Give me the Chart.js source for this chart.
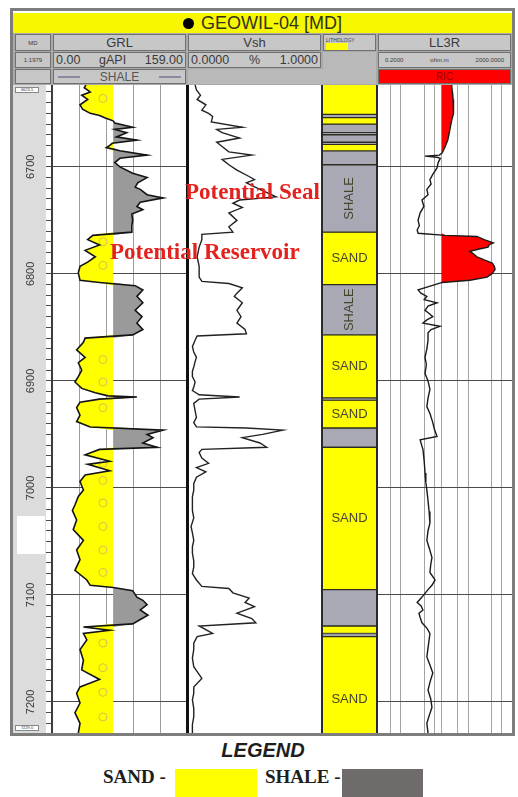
<!DOCTYPE html>
<html>
<head>
<meta charset="utf-8">
<script src="https://cdn.jsdelivr.net/npm/chart.js@4.4.1/dist/chart.umd.min.js"></script>
<style>
  html, body { margin: 0; padding: 0; background: #fff; }
  body { width: 518px; height: 797px; position: relative; overflow: hidden; font-family: Arial, "Liberation Sans", sans-serif; }
  .abs { position: absolute; box-sizing: border-box; }
  canvas.track { position: absolute; }
  .cell { position: absolute; box-sizing: border-box; background: #c7c7c7; border: 1px solid #707070;
          display: flex; align-items: center; justify-content: center; color: #3a3a3a; white-space: nowrap; overflow: hidden; }
  .scale { justify-content: space-between; padding: 0 2px; }
  .sep { position: absolute; top: 85px; height: 648px; background: #2a2a2a; }
  .note { position: absolute; font-family: "Liberation Serif", "Times New Roman", serif; font-weight: bold;
          font-size: 23px; color: #e3221d; white-space: nowrap; line-height: 1; }
</style>
</head>
<body>

<!-- outer frame and header -->
<div class="abs" style="left:10px;top:8px;width:505px;height:728px;border:3px solid #7d7d7d;"></div>
<div class="abs" style="left:13px;top:33px;width:499px;height:52px;background:#a9a9a9;"></div>
<div class="abs" style="left:13px;top:13px;width:499px;height:20px;background:#f7f700;display:flex;align-items:center;justify-content:center;color:#33331a;font-size:18px;">
  <span style="display:inline-block;width:11px;height:11px;border-radius:50%;background:#000;margin-right:7px;"></span>GEOWIL-04 [MD]
</div>

<div class="cell" style="left:15px;top:34px;width:36px;height:17px;font-size:6px;">MD</div>
<div class="cell" style="left:53px;top:34px;width:133px;height:17px;font-size:13px;">GRL</div>
<div class="cell" style="left:188px;top:34px;width:133px;height:17px;font-size:13px;">Vsh</div>
<div class="cell" style="left:323px;top:34px;width:53px;height:17px;font-size:5px;align-items:flex-start;justify-content:flex-start;padding:1px 2px;">
  <span style="position:absolute;left:2px;top:2px;">LITHOLOGY</span>
  <span style="position:absolute;left:2px;top:8px;width:22px;height:7px;background:#ffff00;"></span>
</div>
<div class="cell" style="left:378px;top:34px;width:133px;height:17px;font-size:13px;">LL3R</div>

<div class="cell" style="left:15px;top:52px;width:36px;height:16px;font-size:6px;">1:1979</div>
<div class="cell scale" style="left:53px;top:52px;width:133px;height:16px;font-size:12.5px;"><span>0.00</span><span>gAPI</span><span>159.00</span></div>
<div class="cell scale" style="left:188px;top:52px;width:133px;height:16px;font-size:12.5px;"><span>0.0000</span><span>%</span><span>1.0000</span></div>
<div class="abs" style="left:323px;top:52px;width:53px;height:32px;background:#b9b9b9;"></div>
<div class="cell scale" style="left:378px;top:52px;width:133px;height:16px;font-size:6px;padding:0 6px;"><span>0.2000</span><span>ohm.m</span><span>2000.0000</span></div>

<div class="cell" style="left:15px;top:69px;width:36px;height:15px;"></div>
<div class="cell" style="left:53px;top:69px;width:133px;height:15px;font-size:12px;color:#555;justify-content:space-between;padding:0 4px;">
  <span style="display:inline-block;width:22px;border-top:2px solid #8a8aa0;"></span>SHALE<span style="display:inline-block;width:22px;border-top:2px solid #8a8aa0;"></span>
</div>
<div class="abs" style="left:188px;top:69px;width:135px;height:15px;background:#b9b9b9;"></div>
<div class="cell" style="left:378px;top:69px;width:133px;height:15px;background:#ff0000;color:#a00000;font-size:10px;">RIC</div>

<!-- tracks -->
<canvas id="depthTrack" class="track" width="39" height="648" style="left:13px;top:85px;"></canvas>
<canvas id="grTrack" class="track" width="135" height="648" style="left:52px;top:85px;"></canvas>
<canvas id="vshTrack" class="track" width="135" height="648" style="left:187px;top:85px;"></canvas>
<canvas id="lithTrack" class="track" width="55" height="648" style="left:322px;top:85px;"></canvas>
<canvas id="llTrack" class="track" width="135" height="648" style="left:377px;top:85px;"></canvas>

<div class="abs" style="left:17px;top:516px;width:28px;height:38px;background:#fff;"></div>
<div class="abs" style="left:15px;top:87px;width:24px;height:6px;background:#fff;border:1px solid #888;font-size:4px;line-height:4px;color:#333;text-align:center;">6623.5</div>
<div class="abs" style="left:15px;top:725px;width:24px;height:6px;background:#fff;border:1px solid #888;font-size:4px;line-height:4px;color:#333;text-align:center;">7229.0</div>

<!-- track separators -->
<div class="sep" style="left:51px;width:2px;background:#3c3c3c;"></div>
<div class="sep" style="left:186px;width:3px;background:#111;"></div>
<div class="sep" style="left:321px;width:2px;"></div>
<div class="sep" style="left:376px;width:2px;"></div>

<!-- interpretation notes -->
<div class="note" style="left:185px;top:180px;">Potential Seal</div>
<div class="note" style="left:110px;top:240px;">Potential Reservoir</div>

<!-- legend -->
<div class="abs" style="left:0;top:739px;width:526px;text-align:center;font-size:20px;font-weight:bold;font-style:italic;color:#1e1e1e;">LEGEND</div>
<div class="abs" style="left:103px;top:766px;font-family:'Liberation Serif','Times New Roman',serif;font-weight:bold;font-size:19px;color:#1e1e1e;">SAND -</div>
<div class="abs" style="left:175px;top:769px;width:82px;height:30px;background:#ffff00;"></div>
<div class="abs" style="left:265px;top:766px;font-family:'Liberation Serif','Times New Roman',serif;font-weight:bold;font-size:19px;color:#1e1e1e;">SHALE -</div>
<div class="abs" style="left:342px;top:769px;width:81px;height:30px;background:#6f6b6b;"></div>

<script>
// ---- depth window and grid ----
const DEPTH_TOP = 6623.5;
const DEPTH_BOTTOM = 7229;
const majorDepths = [6700, 6800, 6900, 7000, 7100, 7200];

// ---- GR track (gAPI), sand/shale cutoff ----
const GR_MIN = 0, GR_MAX = 159;
const GR_CUTOFF = 72;
const grGridValues = [31.8, 63.6, 95.4, 127.2];
const grReadings = [
  [6623.5, 40], [6626, 38], [6630, 45], [6633, 35], [6637, 42], [6642, 33], [6646, 36], [6650, 45],
  [6652, 56], [6654, 62], [6657, 72], [6659, 74], [6663, 95], [6665, 74], [6668, 88], [6672, 76],
  [6675, 100], [6678, 71], [6680, 68], [6682, 64], [6685, 80], [6689, 112], [6692, 80], [6696, 74],
  [6700, 80], [6706, 95], [6710, 112], [6715, 101], [6719, 98], [6721, 104], [6726, 112], [6729, 131],
  [6733, 104], [6737, 100], [6740, 107], [6744, 94], [6750, 95], [6755, 94], [6761, 94], [6764, 48],
  [6768, 42], [6773, 56], [6778, 39], [6784, 51], [6789, 42], [6793, 33], [6799, 31], [6806, 33],
  [6808, 56], [6811, 98], [6815, 107], [6821, 100], [6827, 107], [6834, 98], [6840, 106], [6846, 100],
  [6852, 107], [6857, 95], [6860, 39], [6864, 37], [6871, 29], [6878, 39], [6883, 31], [6890, 35],
  [6896, 31], [6901, 27], [6907, 35], [6911, 51], [6914, 66], [6915, 100], [6917, 56], [6920, 33],
  [6925, 29], [6932, 33], [6938, 29], [6943, 45], [6946, 131], [6950, 112], [6953, 119], [6958, 107],
  [6962, 124], [6964, 56], [6969, 39], [6975, 68], [6978, 42], [6984, 68], [6988, 39], [6994, 33],
  [7002, 37], [7008, 31], [7016, 27], [7021, 24], [7030, 29], [7039, 25], [7049, 37], [7058, 29],
  [7067, 33], [7077, 27], [7086, 41], [7091, 45], [7093, 72], [7096, 95], [7102, 100], [7105, 107],
  [7109, 112], [7114, 104], [7119, 113], [7123, 104], [7127, 95], [7130, 37], [7133, 68], [7136, 37],
  [7142, 41], [7151, 33], [7161, 37], [7170, 35], [7179, 56], [7186, 33], [7192, 29], [7201, 33],
  [7210, 27], [7220, 33], [7229, 31]
];
// sand lithology symbol (open circles) inside the sand fill
const SAND_SYMBOL_GR = 60;
const sandSymbolDepths = [6636, 6770, 6792, 6880, 6901, 6925, 6977, 6993, 7014, 7036, 7058, 7079, 7145, 7168, 7191, 7214];

// ---- Vsh track (fraction) ----
const vshReadings = [
  [6623.5, 0.06], [6628, 0.07], [6633, 0.10], [6637, 0.075], [6642, 0.14], [6647, 0.11], [6650, 0.16],
  [6653, 0.19], [6658, 0.18], [6663, 0.41], [6665, 0.22], [6668, 0.26], [6673, 0.39], [6677, 0.22],
  [6681, 0.26], [6686, 0.31], [6689, 0.48], [6693, 0.26], [6698, 0.31], [6703, 0.37], [6709, 0.46],
  [6712, 0.50], [6715, 0.44], [6721, 0.54], [6728, 0.66], [6731, 0.39], [6734, 0.34], [6738, 0.41],
  [6743, 0.31], [6750, 0.37], [6756, 0.31], [6761, 0.34], [6763, 0.11], [6768, 0.11], [6775, 0.09],
  [6784, 0.075], [6793, 0.09], [6803, 0.09], [6807, 0.11], [6809, 0.31], [6813, 0.41], [6818, 0.37],
  [6821, 0.35], [6827, 0.41], [6834, 0.37], [6840, 0.40], [6846, 0.37], [6852, 0.43], [6856, 0.44],
  [6858, 0.075], [6862, 0.06], [6868, 0.04], [6873, 0.05], [6878, 0.07], [6882, 0.06], [6887, 0.05],
  [6891, 0.04], [6896, 0.04], [6901, 0.06], [6906, 0.05], [6909, 0.04], [6913, 0.09], [6915, 0.39],
  [6917, 0.09], [6921, 0.05], [6928, 0.06], [6934, 0.07], [6939, 0.05], [6943, 0.07], [6944, 0.44],
  [6946, 0.71], [6950, 0.56], [6953, 0.41], [6958, 0.54], [6962, 0.59], [6964, 0.11], [6967, 0.09],
  [6972, 0.11], [6977, 0.16], [6981, 0.07], [6985, 0.14], [6990, 0.07], [6996, 0.05], [7002, 0.05],
  [7008, 0.04], [7014, 0.04], [7021, 0.04], [7028, 0.05], [7036, 0.03], [7042, 0.04], [7049, 0.05],
  [7055, 0.04], [7061, 0.04], [7068, 0.05], [7074, 0.05], [7080, 0.04], [7086, 0.07], [7092, 0.11],
  [7094, 0.31], [7098, 0.34], [7103, 0.46], [7107, 0.43], [7111, 0.50], [7117, 0.37], [7122, 0.48],
  [7126, 0.51], [7129, 0.09], [7136, 0.19], [7139, 0.075], [7145, 0.05], [7151, 0.05], [7159, 0.04],
  [7167, 0.05], [7178, 0.11], [7186, 0.05], [7192, 0.05], [7198, 0.04], [7206, 0.05], [7214, 0.05],
  [7221, 0.04], [7229, 0.04]
];

// ---- LL3R track (ohm.m, log), resistivity cutoff ----
const LL_MIN = 0.2, LL_MAX = 2000;
const LL_CUTOFF = 16.5;
const llGridValues = [0.5, 1, 5, 10, 50, 100, 500, 1000];
const llReadings = [
  [6623.5, 33], [6626, 33], [6632, 35], [6637, 36], [6644, 38], [6650, 36], [6656, 33], [6660, 31],
  [6665, 29], [6670, 27], [6675, 25], [6681, 21], [6687, 17], [6689, 14], [6690, 5.3], [6691, 12],
  [6692, 15], [6696, 13], [6701, 12], [6707, 9], [6712, 7.4], [6716, 8], [6721, 6], [6726, 6.5],
  [6731, 4.3], [6737, 4.9], [6743, 3.8], [6750, 3.3], [6755, 3.6], [6759, 3.1], [6762, 3.3], [6764, 21],
  [6765, 183], [6768, 300], [6771, 560], [6773, 420], [6775, 390], [6777, 200], [6779, 113], [6781, 140],
  [6784, 183], [6787, 300], [6790, 520], [6793, 600], [6796, 630], [6800, 500], [6803, 365], [6806, 113],
  [6808, 17], [6810, 10.5], [6815, 3.3], [6818, 4], [6821, 6], [6824, 5], [6827, 12], [6830, 6.5],
  [6834, 5.3], [6837, 7], [6840, 9], [6843, 6], [6846, 4.6], [6849, 14.7], [6852, 8], [6855, 6.5],
  [6862, 6.5], [6870, 6], [6878, 5.3], [6885, 5.8], [6893, 5.3], [6900, 6.5], [6908, 7.4], [6916, 6.5],
  [6924, 6], [6931, 7.5], [6939, 9], [6945, 10], [6952, 12], [6955, 3.8], [6960, 4.2], [6964, 4.6],
  [6975, 5], [6986, 5.3], [6995, 5.6], [7002, 6], [7012, 6.5], [7022, 7], [7033, 7.4], [7040, 6.5],
  [7049, 6], [7057, 7.2], [7065, 8.5], [7072, 7.8], [7079, 7.4], [7086, 10.5], [7091, 8.5], [7095, 6.5],
  [7102, 4.3], [7107, 3.1], [7110, 4], [7114, 4.6], [7117, 3.5], [7121, 3.8], [7126, 4.3], [7131, 6],
  [7136, 7.4], [7145, 6.8], [7158, 6], [7166, 7.5], [7173, 9], [7181, 7.5], [7189, 6.5], [7197, 7.8],
  [7205, 8.5], [7213, 7], [7220, 6], [7229, 6.5]
];

// ---- lithology column ----
const lithTop   = [6600, 6651, 6654, 6660, 6668, 6670, 6677, 6679, 6685, 6698, 6761, 6810, 6857, 6916, 6918, 6944, 6962, 7095, 7129, 7136, 7139];
const lithBase  = [6651, 6654, 6660, 6668, 6670, 6677, 6679, 6685, 6698, 6761, 6810, 6857, 6916, 6918, 6944, 6962, 7095, 7129, 7136, 7139, 7257];
const lithType  = ['SAND','SHALE','SAND','SHALE','SHALE','SHALE','SHALE','SAND','SHALE','SHALE','SAND','SHALE','SAND','SHALE','SAND','SHALE','SAND','SHALE','SAND','SHALE','SAND'];
const lithLabel = [false,false,false,false,false,false,false,false,false,true,true,true,true,false,true,false,true,false,false,false,true];

// ---- colours ----
const SAND_YELLOW = '#ffff00';
const GR_SHALE_GRAY = '#9a9a9a';
const LITH_SHALE_GRAY = '#a9a9b5';
const RES_RED = '#ff0000';

// ---- shared chart setup ----
const baseOptions = () => ({
  responsive: false,
  animation: false,
  events: [],
  layout: { padding: 0, autoPadding: false },
  plugins: { legend: { display: false }, tooltip: { enabled: false } }
});

function depthAxis(showGrid) {
  return {
    type: 'linear', reverse: true, min: DEPTH_TOP, max: DEPTH_BOTTOM,
    display: showGrid,
    border: { display: false },
    ticks: { display: false },
    grid: { color: '#4a4a4a', lineWidth: 1, drawTicks: false },
    afterBuildTicks(s) { s.ticks = majorDepths.map(v => ({ value: v })); }
  };
}

function valueAxis(type, min, max, gridValues, color) {
  return {
    type, min, max, display: true,
    border: { display: false },
    ticks: { display: false },
    grid: { color, lineWidth: 1, drawTicks: false },
    afterBuildTicks(s) { s.ticks = gridValues.map(v => ({ value: v })); }
  };
}

const pts = (readings, fn) => readings.map(([d, v]) => ({ x: fn ? fn(v) : v, y: d }));

// ---- depth track ----
const depthTrackPlugin = {
  id: 'depthTrack',
  beforeDraw(chart) {
    const { ctx, chartArea: a } = chart;
    ctx.save();
    ctx.fillStyle = '#dcdcdc';
    ctx.fillRect(a.left, a.top, a.right - a.left, a.bottom - a.top);
    ctx.restore();
  },
  afterDraw(chart) {
    const { ctx, chartArea: a, scales: { y } } = chart;
    ctx.save();
    ctx.font = '11px Arial, "Liberation Sans", sans-serif';
    ctx.fillStyle = '#3a3a3a';
    ctx.textAlign = 'center';
    ctx.textBaseline = 'middle';
    majorDepths.forEach(d => {
      ctx.save();
      ctx.translate((a.left + a.right) / 2 + 1, y.getPixelForValue(d));
      ctx.rotate(-Math.PI / 2);
      ctx.fillText(String(d), 0, 0);
      ctx.restore();
    });
    ctx.restore();
  }
};

new Chart(document.getElementById('depthTrack'), {
  type: 'line',
  data: { datasets: [] },
  options: Object.assign(baseOptions(), {
    scales: {
      x: { type: 'linear', display: false, min: 0, max: 1 },
      y: {
        type: 'linear', position: 'right', reverse: true, min: DEPTH_TOP, max: DEPTH_BOTTOM,
        border: { display: false },
        ticks: { display: false },
        grid: { drawOnChartArea: false, drawTicks: true, tickLength: 6, color: '#4a4a4a', lineWidth: 1 },
        afterBuildTicks(s) {
          const t = [];
          for (let d = 6630; d <= 7220; d += 10) t.push({ value: d });
          s.ticks = t;
        }
      }
    }
  }),
  plugins: [depthTrackPlugin]
});

// ---- GR track (first dataset is drawn on top) ----
new Chart(document.getElementById('grTrack'), {
  type: 'line',
  data: {
    datasets: [
      { data: pts(grReadings), indexAxis: 'y', borderColor: '#141414', borderWidth: 1.6, pointRadius: 0, fill: false },
      { data: sandSymbolDepths.map(d => ({ x: SAND_SYMBOL_GR, y: d })), indexAxis: 'y', showLine: false,
        pointRadius: 4, pointBorderWidth: 1, pointBorderColor: '#d6c24e', pointBackgroundColor: 'rgba(0,0,0,0)' },
      { data: pts(grReadings, v => Math.min(v, GR_CUTOFF)), indexAxis: 'y', borderWidth: 0, pointRadius: 0,
        fill: { value: GR_CUTOFF }, backgroundColor: SAND_YELLOW },
      { data: pts(grReadings, v => Math.max(v, GR_CUTOFF)), indexAxis: 'y', borderWidth: 0, pointRadius: 0,
        fill: { value: GR_CUTOFF }, backgroundColor: GR_SHALE_GRAY }
    ]
  },
  options: Object.assign(baseOptions(), {
    indexAxis: 'y',
    scales: { x: valueAxis('linear', GR_MIN, GR_MAX, grGridValues, '#9d9d9d'), y: depthAxis(true) }
  })
});

// ---- Vsh track ----
new Chart(document.getElementById('vshTrack'), {
  type: 'line',
  data: {
    datasets: [
      { data: pts(vshReadings), indexAxis: 'y', borderColor: '#222', borderWidth: 1.4, pointRadius: 0, fill: false }
    ]
  },
  options: Object.assign(baseOptions(), {
    indexAxis: 'y',
    scales: { x: { type: 'linear', min: 0, max: 1, display: false }, y: depthAxis(false) }
  })
});

// ---- lithology column ----
const lithLabelPlugin = {
  id: 'lithLabels',
  afterDatasetsDraw(chart) {
    const { ctx, chartArea: a, scales: { y } } = chart;
    ctx.save();
    ctx.beginPath();
    ctx.rect(a.left, a.top, a.right - a.left, a.bottom - a.top);
    ctx.clip();
    ctx.font = '13px Arial, "Liberation Sans", sans-serif';
    ctx.fillStyle = '#45452c';
    ctx.textAlign = 'center';
    ctx.textBaseline = 'middle';
    const cx = (a.left + a.right) / 2;
    lithTop.forEach((top, i) => {
      if (!lithLabel[i]) return;
      const cy = y.getPixelForValue((top + lithBase[i]) / 2);
      ctx.save();
      ctx.translate(cx, cy);
      if (lithType[i] === 'SHALE') ctx.rotate(-Math.PI / 2);
      ctx.fillText(lithType[i], 0, 0);
      ctx.restore();
    });
    ctx.restore();
  }
};

new Chart(document.getElementById('lithTrack'), {
  type: 'bar',
  data: {
    labels: ['LITHOLOGY'],
    datasets: lithTop.map((top, i) => ({
      data: [[top, lithBase[i]]],
      backgroundColor: lithType[i] === 'SAND' ? SAND_YELLOW : LITH_SHALE_GRAY,
      borderColor: '#2d2d22', borderWidth: 1, borderSkipped: false,
      barPercentage: 1, categoryPercentage: 1, grouped: false
    }))
  },
  options: Object.assign(baseOptions(), {
    scales: { x: { type: 'category', display: false }, y: depthAxis(false) }
  }),
  plugins: [lithLabelPlugin]
});

// ---- LL3R track (curve on top of the resistivity fill) ----
new Chart(document.getElementById('llTrack'), {
  type: 'line',
  data: {
    datasets: [
      { data: pts(llReadings), indexAxis: 'y', borderColor: '#1a1a1a', borderWidth: 1.4, pointRadius: 0, fill: false },
      { data: pts(llReadings, v => Math.max(v, LL_CUTOFF)), indexAxis: 'y', borderWidth: 0, pointRadius: 0,
        fill: { value: LL_CUTOFF }, backgroundColor: RES_RED }
    ]
  },
  options: Object.assign(baseOptions(), {
    indexAxis: 'y',
    scales: {
      x: valueAxis('logarithmic', LL_MIN, LL_MAX, llGridValues.concat([LL_CUTOFF]), '#a3a3a3'),
      y: depthAxis(true)
    }
  })
});
</script>
</body>
</html>
